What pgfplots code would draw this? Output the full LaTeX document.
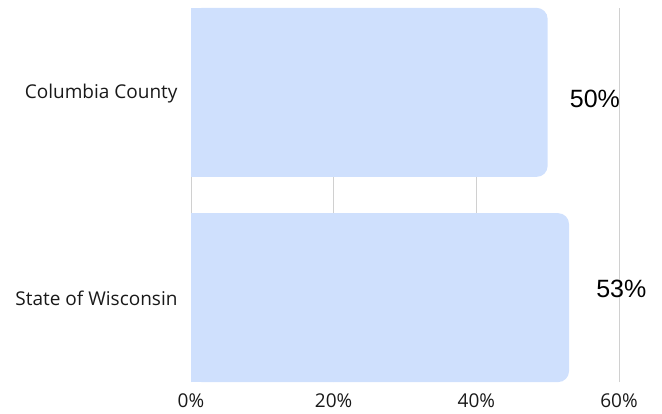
\documentclass[border=0pt]{standalone}
\usepackage{pgfplots}
\pgfplotsset{compat=1.18}
\usepackage{pgfplotstable}
\usepackage{fontspec}
\setmainfont{Open Sans}
\newfontfamily\valfont{Liberation Sans}
\definecolor{barblue}{HTML}{CFE0FD}
\definecolor{gridgray}{HTML}{D0D0D0}

% share of respondents, y = 1 is the top row
\pgfplotstableread{
y v
1 50
}\columbia
\pgfplotstableread{
y v
0 53
}\wisconsin

\begin{document}
\begin{tikzpicture}
\useasboundingbox (0,0) rectangle (662bp,414bp);
\begin{axis}[
  at={(191bp,32bp)}, anchor=south west,
  scale only axis, width=428bp, height=374bp,
  xmin=0, xmax=60, ymin=-0.411, ymax=1.411,
  axis line style={draw=none}, major tick length=0pt, clip=false,
  xbar, bar width=169bp, bar shift=0pt,
  ytick={0,1}, yticklabels={State of Wisconsin, Columbia County},
  xtick={0,20,40,60},
  xticklabel={\pgfmathprintnumber{\tick}\%},
  /pgf/number format/assume math mode=true,
  ticklabel style={font=\fontsize{19bp}{22bp}\selectfont, text=black!90},
  yticklabel style={xshift=-10bp, yshift=-1bp},
  xticklabel style={yshift=-8bp},
]
% vertical grid lines behind the bars
\pgfplotsinvokeforeach{0,20,40,60}{
  \draw[gridgray, line width=0.8pt] (axis cs:#1,-0.411) -- (axis cs:#1,1.411);
}
% rounded bars with value labels
\addplot[fill=barblue, draw=none, rounded corners=11bp,
  point meta=x, nodes near coords={\pgfmathprintnumber{\pgfplotspointmeta}\%},
  nodes near coords style={anchor=west, inner sep=0pt, xshift=22bp, yshift=-6.5bp,
    font=\valfont\fontsize{25bp}{28bp}\selectfont, text=black}]
  table[x=v, y=y] {\columbia};
\addplot[fill=barblue, draw=none, rounded corners=11bp,
  point meta=x, nodes near coords={\pgfmathprintnumber{\pgfplotspointmeta}\%},
  nodes near coords style={anchor=west, inner sep=0pt, xshift=27bp, yshift=8.5bp,
    font=\valfont\fontsize{25bp}{28bp}\selectfont, text=black}]
  table[x=v, y=y] {\wisconsin};
% square off the left end of each bar
\addplot[fill=barblue, draw=none] table[x expr=\thisrow{v}-10, y=y] {\columbia};
\addplot[fill=barblue, draw=none] table[x expr=\thisrow{v}-10, y=y] {\wisconsin};
\end{axis}
\end{tikzpicture}
\end{document}
